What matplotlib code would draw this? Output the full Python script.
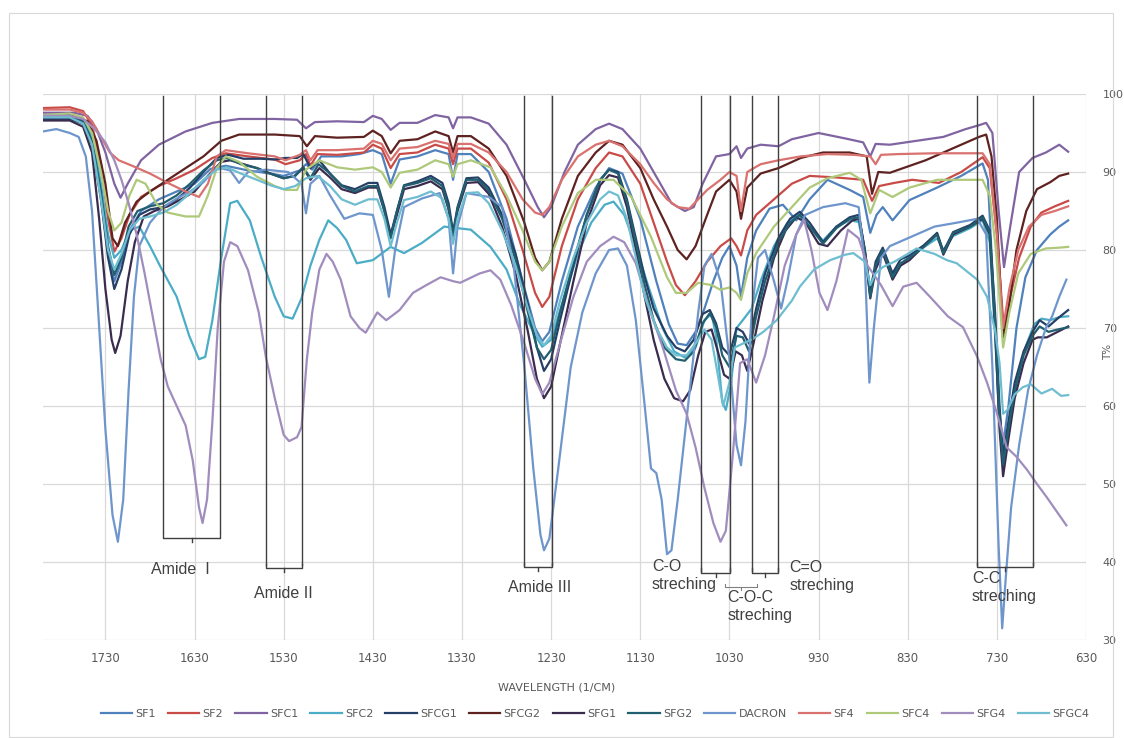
import matplotlib.pyplot as plt
from matplotlib.patches import Rectangle

# FTIR spectra, (wavenumber, T%)
sf1 = [(1800, 97.0), (1770, 97.0), (1755, 96.3), (1745, 94), (1735, 87), (1727, 79.5), (1720, 76), (1712, 78.5),
       (1703, 82.5), (1690, 85), (1670, 86.5), (1650, 87.5), (1630, 88.5), (1612, 90.4), (1595, 90.8), (1570, 90.2),
       (1545, 89.8), (1530, 89.5), (1512, 90.2), (1505, 91.0), (1498, 90.3), (1488, 92), (1465, 92), (1445, 92.3),
       (1430, 92.8), (1420, 92.3), (1410, 88.5), (1400, 91.6), (1380, 92), (1360, 92.8), (1345, 92.3), (1340, 89),
       (1335, 92.3), (1320, 92.3), (1300, 90), (1280, 84), (1262, 76), (1248, 70), (1240, 68.3), (1232, 69.5),
       (1218, 76), (1200, 83), (1180, 88), (1165, 90.5), (1150, 89.8), (1130, 84), (1112, 76), (1098, 70.5),
       (1088, 68), (1078, 67.8), (1068, 69.5), (1058, 72.5), (1048, 76), (1038, 79), (1030, 80.5), (1022, 78),
       (1017, 74), (1010, 79), (1000, 82.5), (985, 85.3), (970, 85.8), (955, 83.8), (940, 86.5), (920, 89),
       (895, 87.7), (880, 86.8), (872, 82.2), (865, 84.5), (858, 85.5), (847, 83.8), (828, 86.4), (797, 88),
       (770, 89.5), (746, 91.1), (740, 89), (734, 75), (728, 60), (723, 55), (717, 60), (708, 70), (698, 76.5),
       (685, 80), (670, 82), (660, 83), (650, 83.8)]

sf2 = [(1800, 98.2), (1770, 98.3), (1755, 97.8), (1745, 96), (1735, 91), (1727, 84), (1720, 79.8), (1712, 81.5),
       (1703, 84.5), (1690, 86.8), (1670, 88.2), (1650, 89.2), (1630, 90.3), (1610, 91.8), (1595, 92.4), (1570, 92.0),
       (1540, 91.6), (1528, 91.0), (1512, 91.5), (1505, 92.3), (1500, 90.8), (1492, 92.3), (1470, 92.2), (1440, 92.5),
       (1430, 93.5), (1420, 93), (1410, 90.5), (1400, 92.3), (1380, 92.5), (1360, 93.5), (1345, 93), (1340, 91),
       (1335, 93), (1320, 93), (1300, 91.2), (1280, 86.5), (1262, 80), (1248, 74.5), (1240, 72.7), (1232, 74),
       (1218, 80.5), (1200, 86.5), (1180, 90.5), (1165, 92.5), (1150, 92), (1130, 88.5), (1115, 83.5), (1100, 78.5),
       (1090, 75.5), (1080, 74.2), (1068, 76), (1055, 78.5), (1040, 80.5), (1028, 81.5), (1022, 80.5), (1017, 79.3),
       (1010, 82.5), (1000, 84.5), (980, 86.5), (960, 88.5), (940, 89.5), (910, 89.3), (880, 89), (870, 86.3),
       (862, 88.2), (845, 88.6), (825, 89), (795, 88.6), (770, 90), (746, 91.9), (738, 90.5), (730, 82), (722, 69.5),
       (715, 74), (705, 79), (692, 83), (680, 84.8), (665, 85.6), (650, 86.3)]

sfc1 = [(1800, 97.6), (1765, 97.6), (1750, 97.2), (1740, 95.5), (1730, 92.5), (1720, 88.5), (1713, 86.7), (1705, 88.5),
        (1690, 91.5), (1670, 93.5), (1640, 95.2), (1610, 96.3), (1580, 96.8), (1540, 96.8), (1515, 96.7), (1505, 95.6),
        (1495, 96.4), (1470, 96.5), (1440, 96.4), (1430, 97.2), (1420, 96.8), (1410, 95.4), (1400, 96.3), (1380, 96.3),
        (1360, 97.3), (1345, 97.0), (1340, 95.6), (1335, 97.0), (1320, 97.0), (1300, 96.2), (1280, 93.5), (1260, 89.0),
        (1245, 85.5), (1238, 84.2), (1230, 85.5), (1215, 90.0), (1200, 93.5), (1180, 95.5), (1165, 96.2), (1150, 95.5),
        (1130, 93.0), (1110, 89.0), (1095, 86.0), (1080, 85.0), (1070, 85.5), (1060, 88.5), (1045, 92.0), (1030, 92.3),
        (1022, 93.3), (1017, 91.8), (1010, 93.0), (995, 93.5), (975, 93.3), (960, 94.2), (930, 95.0), (900, 94.3),
        (880, 93.8), (872, 92.0), (866, 93.6), (850, 93.5), (820, 94.0), (790, 94.5), (765, 95.5), (750, 96.0),
        (742, 96.3), (735, 95.0), (728, 85.0), (722, 77.8), (715, 83.0), (705, 90.0), (690, 91.8), (675, 92.5),
        (660, 93.5), (650, 92.6)]

sfc2 = [(1800, 97.3), (1770, 97.3), (1755, 96.6), (1745, 94.5), (1735, 88.5), (1727, 82), (1720, 79), (1712, 80),
        (1703, 82.5), (1692, 83), (1680, 80.5), (1668, 77.8), (1650, 74), (1636, 69), (1625, 66), (1618, 66.3),
        (1610, 71), (1600, 79), (1590, 86), (1582, 86.3), (1568, 83.8), (1555, 79), (1540, 74), (1530, 71.5),
        (1520, 71.2), (1510, 73.8), (1500, 78), (1490, 81.3), (1480, 83.8), (1470, 82.8), (1460, 81.3), (1448, 78.3),
        (1430, 78.7), (1410, 80.4), (1395, 79.6), (1375, 80.9), (1350, 83), (1335, 82.8), (1320, 82.6), (1298, 80.4),
        (1280, 77.5), (1265, 73), (1250, 69.5), (1240, 67.6), (1230, 68.5), (1218, 73), (1200, 79.5), (1185, 83.5),
        (1170, 85.8), (1160, 86.2), (1148, 84.5), (1135, 80.4), (1120, 75), (1105, 70), (1092, 67), (1080, 66.2),
        (1068, 67.5), (1058, 71), (1050, 71.8), (1045, 69), (1038, 60.5), (1034, 59.5), (1028, 63), (1022, 70),
        (1015, 71), (1005, 72.5), (995, 76), (980, 80.5), (965, 83.5), (952, 84.5), (940, 83), (925, 81.2), (910, 83),
        (895, 83.8), (885, 83.6), (878, 79.5), (872, 75), (866, 77.8), (858, 79.5), (847, 77), (830, 79), (810, 80.5),
        (797, 81.5), (790, 80), (779, 81.8), (760, 82.8), (746, 83.8), (738, 81), (732, 69), (727, 58), (722, 54.5),
        (716, 58), (708, 63), (698, 67.5), (688, 70.5), (680, 71.2), (670, 71.0), (660, 71.4), (650, 71.5)]

sfcg1 = [(1800, 96.8), (1770, 96.8), (1755, 96.2), (1745, 93.5), (1735, 86.5), (1727, 79), (1720, 75), (1712, 77.5),
         (1703, 82), (1692, 84.5), (1680, 85.2), (1665, 85.5), (1650, 86.5), (1635, 88), (1620, 90), (1605, 91.8),
         (1592, 92.2), (1575, 91.7), (1555, 91.7), (1540, 91.6), (1528, 91.8), (1515, 91.8), (1508, 92.3), (1500, 90.5),
         (1490, 91.5), (1478, 89.8), (1465, 88.3), (1450, 87.8), (1435, 88.6), (1425, 88.6), (1417, 85.5), (1410, 82),
         (1403, 85), (1395, 88.3), (1380, 88.8), (1365, 89.5), (1352, 88.6), (1345, 86), (1340, 82.3), (1335, 85.5),
         (1325, 89.2), (1312, 89.3), (1300, 88), (1285, 84.5), (1270, 79.5), (1256, 73), (1246, 67.5), (1238, 64.5),
         (1230, 66), (1220, 71), (1205, 78), (1190, 84.5), (1175, 89), (1165, 90.3), (1155, 90), (1145, 86.5),
         (1135, 81.5), (1125, 76.5), (1115, 72.5), (1100, 69), (1090, 67.5), (1080, 67), (1070, 68.5), (1060, 71.8),
         (1052, 72.3), (1045, 70.6), (1038, 67.5), (1030, 66.5), (1022, 70), (1015, 69.5), (1008, 68), (1000, 72.5),
         (990, 77), (975, 81.5), (962, 84), (951, 84.9), (940, 83.5), (925, 81), (910, 83), (895, 84.2), (885, 84.5),
         (878, 80), (872, 74.5), (866, 78.5), (858, 80.3), (847, 77), (838, 78.8), (828, 79.3), (812, 80.6),
         (797, 82.2), (790, 79.8), (779, 82.3), (760, 83.2), (746, 84.4), (738, 82.5), (732, 72), (727, 60),
         (723, 53.5), (717, 58), (710, 63), (700, 67), (690, 69.5), (682, 71), (672, 70.2), (662, 71.2), (650, 72.3)]

sfcg2 = [(1800, 97.3), (1765, 97.2), (1750, 96.5), (1740, 94), (1730, 88.5), (1722, 81.5), (1716, 80.5), (1708, 83.5),
         (1695, 86.2), (1680, 87.5), (1660, 89), (1640, 90.5), (1620, 92), (1600, 94), (1580, 94.8), (1540, 94.8),
         (1512, 94.6), (1504, 93.3), (1495, 94.6), (1470, 94.4), (1440, 94.5), (1430, 95.3), (1420, 94.6), (1410, 92.4),
         (1400, 94.0), (1380, 94.2), (1360, 95.2), (1345, 94.6), (1340, 92.5), (1335, 94.6), (1320, 94.6), (1300, 93),
         (1280, 89.5), (1260, 83.5), (1248, 79), (1240, 77.4), (1232, 78.5), (1218, 84), (1200, 89.5), (1180, 92.5),
         (1165, 94), (1150, 93.5), (1130, 90.5), (1115, 86.5), (1100, 83), (1088, 80), (1078, 78.8), (1068, 80.5),
         (1055, 84.5), (1045, 87.5), (1030, 89), (1022, 87.5), (1017, 84), (1010, 88), (995, 89.8), (975, 90.5),
         (950, 91.8), (925, 92.5), (895, 92.5), (876, 92), (870, 87.2), (863, 90), (850, 89.9), (835, 90.5),
         (810, 91.5), (790, 92.5), (770, 93.5), (750, 94.5), (742, 94.8), (736, 92), (730, 84), (723, 68.8),
         (716, 73), (708, 80), (697, 85), (685, 87.8), (670, 88.7), (660, 89.5), (650, 89.8)]

sfg1 = [(1800, 96.6), (1770, 96.6), (1755, 95.8), (1745, 92.5), (1737, 84), (1730, 75), (1723, 68.5), (1719, 66.8),
        (1713, 69), (1705, 76), (1697, 81), (1687, 84.3), (1675, 85), (1660, 85.6), (1645, 86.5), (1630, 87.5),
        (1615, 89.5), (1600, 91.3), (1590, 91.5), (1575, 91), (1560, 90.5), (1545, 89.8), (1530, 89.2), (1518, 89.5),
        (1508, 90.5), (1500, 89), (1490, 90.5), (1478, 89.3), (1465, 87.8), (1450, 87.3), (1435, 88), (1425, 88),
        (1417, 85), (1410, 81.7), (1403, 84.5), (1395, 87.8), (1380, 88.2), (1365, 88.8), (1352, 87.8), (1345, 85.2),
        (1340, 81.8), (1335, 85), (1325, 88.6), (1312, 88.7), (1300, 87.2), (1285, 83), (1270, 77), (1256, 69.5),
        (1246, 63.5), (1238, 61), (1230, 62.5), (1220, 68), (1205, 76), (1190, 83.5), (1175, 88.3), (1165, 89.6),
        (1155, 89.3), (1145, 85.5), (1135, 80), (1125, 74), (1115, 68.5), (1103, 63.5), (1092, 61), (1082, 60.6),
        (1074, 62), (1065, 66.5), (1057, 69.5), (1050, 69.8), (1043, 67), (1036, 64), (1030, 63.5), (1023, 67),
        (1016, 66.5), (1010, 64.5), (1003, 68), (993, 73.5), (980, 79), (967, 82.5), (955, 84.2), (945, 83.6),
        (930, 80.8), (920, 80.5), (905, 82.5), (892, 83.8), (884, 84), (877, 79), (872, 73.8), (866, 77.5), (858, 79.6),
        (847, 76.2), (838, 78), (828, 78.7), (812, 80.5), (797, 82), (790, 79.4), (779, 82), (760, 83), (746, 84),
        (738, 82), (732, 70), (727, 57), (723, 51), (718, 55), (710, 61), (700, 65.5), (690, 68.5), (684, 68.8),
        (674, 68.8), (662, 69.5), (650, 70.2)]

sfg2 = [(1800, 97.2), (1770, 97.2), (1755, 96.5), (1745, 94), (1735, 87.5), (1727, 80.5), (1720, 76.8), (1712, 79),
        (1704, 83), (1694, 85), (1680, 85.6), (1665, 86), (1650, 87), (1635, 88.5), (1620, 90.2), (1605, 91.5),
        (1594, 91.8), (1578, 91), (1560, 90.5), (1545, 89.8), (1530, 89.2), (1517, 89.5), (1508, 90.6), (1500, 89.2),
        (1491, 91), (1480, 90), (1465, 88.2), (1450, 87.5), (1435, 88.2), (1425, 88.2), (1417, 85), (1410, 81.5),
        (1403, 85), (1395, 88.2), (1380, 88.6), (1365, 89.2), (1352, 88.2), (1345, 85.3), (1340, 82), (1335, 85.3),
        (1325, 89), (1312, 89), (1300, 87.6), (1285, 84), (1270, 78.8), (1256, 72), (1246, 67.5), (1238, 66),
        (1230, 67.2), (1220, 72), (1205, 78.5), (1190, 84.5), (1175, 89), (1165, 90.3), (1155, 89.8), (1145, 86.2),
        (1135, 81), (1125, 75.5), (1115, 71), (1103, 67.5), (1090, 66), (1080, 65.8), (1070, 67), (1060, 70.6),
        (1052, 71.9), (1045, 70.2), (1038, 66.5), (1030, 65), (1022, 69), (1015, 68.8), (1008, 67), (1000, 71.5),
        (990, 76), (975, 81), (962, 83.5), (951, 84.5), (940, 83), (925, 80.8), (910, 82.8), (895, 84), (885, 84.2),
        (878, 79.8), (872, 74), (866, 78), (858, 80), (847, 76.5), (838, 78.3), (828, 79), (812, 80.4), (797, 82),
        (790, 79.6), (779, 82.2), (760, 83), (746, 84.2), (738, 82.3), (732, 71), (727, 58.5), (723, 52.5), (717, 57),
        (710, 62), (700, 66.5), (690, 69), (682, 70.2), (672, 69.5), (662, 69.8), (650, 70.1)]

dacron = [(1800, 95.2), (1785, 95.5), (1770, 95.0), (1760, 94.5), (1752, 92), (1745, 85), (1738, 72), (1730, 57),
          (1722, 46), (1716, 42.6), (1710, 48), (1704, 62), (1698, 74), (1692, 80.5), (1680, 83.5), (1665, 85.5),
          (1650, 86.6), (1635, 87.5), (1620, 88.7), (1605, 90.6), (1590, 90.2), (1580, 88.6), (1570, 90.0),
          (1550, 90.3), (1525, 90.0), (1510, 88.5), (1505, 84.7), (1500, 88.5), (1490, 89.5), (1478, 87),
          (1462, 84), (1445, 84.7), (1430, 84.5), (1420, 80), (1412, 74), (1405, 80), (1395, 85.5), (1375, 86.6),
          (1355, 87.3), (1345, 84), (1340, 77), (1335, 83), (1325, 87.3), (1300, 86.8), (1285, 85.5), (1272, 78),
          (1260, 65), (1250, 52), (1242, 43.5), (1238, 41.5), (1232, 43), (1222, 52), (1208, 65), (1195, 72),
          (1180, 77), (1165, 80), (1155, 80.2), (1145, 78), (1135, 71), (1125, 60), (1118, 52), (1112, 51.4),
          (1106, 48), (1100, 41), (1095, 41.5), (1088, 48), (1075, 61.5), (1065, 72), (1058, 78), (1050, 79.5),
          (1040, 76), (1030, 66), (1022, 55), (1017, 52.4), (1012, 58), (1005, 72), (998, 79), (990, 80), (980, 76),
          (972, 72.5), (965, 76), (955, 82), (945, 84.5), (925, 85.5), (900, 86), (885, 85.5), (878, 78), (873, 63),
          (868, 70), (860, 79), (850, 80.5), (830, 81.5), (800, 83), (775, 83.5), (752, 84), (742, 82), (735, 65),
          (728, 42), (724, 31.5), (720, 38), (714, 47), (705, 55), (695, 62), (685, 66.5), (675, 70), (668, 71.5),
          (660, 74), (652, 76.2)]

sf4 = [(1800, 98.0), (1770, 98.0), (1755, 97.6), (1745, 96.5), (1735, 94.5), (1725, 92.5), (1715, 91.5), (1700, 90.8),
       (1680, 89.8), (1660, 88.6), (1640, 87.5), (1625, 86.8), (1615, 88.5), (1605, 92), (1595, 92.8), (1570, 92.4),
       (1540, 92.0), (1528, 91.5), (1512, 92.2), (1505, 92.8), (1500, 91.5), (1492, 92.8), (1470, 92.8), (1440, 93.0),
       (1430, 94.0), (1420, 93.6), (1410, 91.5), (1400, 93), (1380, 93.2), (1360, 94), (1345, 93.6), (1340, 91.8),
       (1335, 93.6), (1320, 93.6), (1300, 92.5), (1280, 90), (1262, 86.5), (1248, 84.8), (1240, 84.5), (1232, 85.5),
       (1218, 89), (1200, 92), (1180, 93.5), (1165, 94), (1150, 93.3), (1130, 91), (1115, 88.6), (1100, 86.5),
       (1088, 85.5), (1075, 85.3), (1065, 86.5), (1055, 87.7), (1040, 89), (1030, 90), (1022, 89.5), (1017, 85),
       (1010, 90), (995, 91), (975, 91.5), (950, 92), (920, 92.3), (890, 92.2), (872, 92), (866, 91), (860, 92.2),
       (840, 92.3), (800, 92.4), (770, 92.4), (746, 92.4), (738, 91), (730, 82), (723, 70), (716, 75), (706, 80),
       (694, 83), (680, 84.5), (665, 85), (650, 85.6)]

sfc4 = [(1800, 97.3), (1770, 97.5), (1755, 97), (1745, 95), (1735, 90), (1727, 85), (1720, 82.5), (1712, 83.5),
        (1703, 87), (1695, 89), (1685, 88.5), (1672, 85.8), (1660, 84.8), (1640, 84.3), (1625, 84.3), (1615, 87),
        (1605, 90.5), (1595, 92), (1580, 91.3), (1560, 89.4), (1540, 88.2), (1528, 87.7), (1515, 87.7), (1505, 90.3),
        (1490, 91.5), (1470, 90.6), (1450, 90.3), (1430, 90.6), (1420, 90), (1410, 88), (1400, 89.9), (1380, 90.3),
        (1360, 91.5), (1345, 91), (1340, 89.4), (1335, 91), (1320, 91.5), (1298, 90.6), (1280, 87), (1262, 82.5),
        (1248, 78.5), (1240, 77.4), (1232, 78.5), (1218, 83), (1200, 87.3), (1180, 89), (1160, 89), (1140, 86.8),
        (1118, 81.7), (1100, 76.5), (1090, 74.5), (1078, 74.5), (1065, 75.8), (1050, 75.5), (1040, 74.9),
        (1030, 75.2), (1022, 74.5), (1017, 73.6), (1010, 77), (1000, 79.6), (980, 83), (960, 85.5), (940, 88),
        (920, 89.2), (895, 89.9), (882, 89), (872, 84.7), (862, 87.7), (847, 86.8), (828, 88), (797, 89), (770, 89),
        (746, 89), (738, 87), (731, 80), (723, 67.5), (716, 72), (706, 77), (692, 79.5), (675, 80.2), (660, 80.3),
        (650, 80.4)]

sfg4 = [(1800, 97.2), (1770, 97.2), (1755, 96.8), (1742, 95.5), (1730, 93.8), (1720, 91.5), (1712, 89), (1704, 86),
        (1695, 82), (1686, 77), (1677, 71.5), (1668, 66), (1660, 62.5), (1650, 60), (1640, 57.5), (1632, 53),
        (1625, 47), (1621, 45), (1616, 48), (1610, 58), (1604, 70), (1597, 78.5), (1590, 81), (1582, 80.5),
        (1570, 77.4), (1558, 72), (1550, 66.3), (1540, 61), (1530, 56.3), (1524, 55.5), (1515, 56), (1510, 57.3),
        (1504, 66), (1498, 72), (1490, 77.5), (1482, 79.5), (1475, 78.5), (1466, 76.2), (1455, 71.5), (1445, 70),
        (1438, 69.4), (1425, 72), (1415, 71), (1400, 72.3), (1385, 74.5), (1370, 75.5), (1354, 76.5), (1340, 76),
        (1332, 75.8), (1310, 77), (1298, 77.4), (1287, 76.2), (1275, 73), (1260, 68), (1248, 63.5), (1240, 61.5),
        (1232, 63), (1220, 68), (1205, 74), (1190, 78.5), (1175, 80.5), (1160, 81.7), (1148, 81), (1135, 78.3),
        (1120, 72.5), (1105, 67.6), (1090, 62), (1078, 59), (1068, 54.7), (1058, 49.5), (1048, 45), (1040, 42.6),
        (1034, 44), (1026, 54), (1018, 65.5), (1010, 66), (1000, 63), (990, 66.5), (980, 71.5), (968, 78), (955, 82),
        (946, 83.8), (938, 80), (929, 74.5), (920, 72.3), (910, 76), (897, 82.6), (885, 81.5), (875, 78), (860, 75.5),
        (847, 72.8), (835, 75.3), (820, 75.8), (805, 74), (785, 71.5), (768, 70.1), (752, 66.3), (741, 63),
        (730, 59.1), (719, 54.7), (708, 53.5), (696, 51.8), (685, 50), (674, 48.3), (663, 46.5), (652, 44.7)]

sfgc4 = [(1800, 97.0), (1770, 97.0), (1755, 96.2), (1745, 93.5), (1735, 86.5), (1727, 80), (1720, 77.5), (1712, 79.5),
         (1703, 82.5), (1692, 84), (1680, 84.3), (1665, 84.8), (1650, 85.8), (1635, 87.3), (1620, 89), (1605, 90.3),
         (1594, 90.6), (1578, 89.8), (1560, 89), (1545, 88.3), (1530, 87.8), (1517, 88.2), (1505, 89.2), (1492, 89.5),
         (1478, 88.2), (1465, 86.5), (1450, 85.8), (1435, 86.5), (1425, 86.5), (1417, 84), (1410, 80.5), (1403, 83.5),
         (1395, 86.4), (1380, 86.8), (1365, 87.5), (1352, 86.6), (1345, 84), (1340, 80.8), (1335, 84), (1325, 87.3),
         (1312, 87.4), (1300, 86), (1285, 82.5), (1270, 78), (1256, 72.5), (1246, 69), (1238, 67.8), (1230, 69),
         (1220, 73.5), (1205, 79), (1190, 83.5), (1175, 86.5), (1165, 87.5), (1155, 87), (1145, 84), (1135, 79),
         (1125, 74), (1112, 70), (1100, 67.5), (1090, 66.5), (1078, 66.5), (1068, 68), (1058, 69.8), (1050, 68.5),
         (1043, 64), (1037, 60), (1030, 63), (1024, 67.5), (1015, 68), (1005, 68.5), (992, 69.5), (977, 71),
         (960, 73.5), (951, 75.3), (935, 77.5), (917, 78.7), (900, 79.4), (891, 79.6), (878, 78.5), (872, 75.5),
         (866, 77), (858, 77.8), (845, 78.5), (830, 79.5), (820, 80.2), (800, 79.5), (786, 78.7), (775, 78.3),
         (752, 76.2), (741, 74), (732, 69.7), (727, 65.5), (723, 59), (718, 59.5), (710, 61.5), (701, 62.4),
         (692, 62.8), (680, 61.6), (668, 62.2), (658, 61.3), (650, 61.4)]

names = ['SF1', 'SF2', 'SFC1', 'SFC2', 'SFCG1', 'SFCG2', 'SFG1', 'SFG2', 'DACRON', 'SF4', 'SFC4', 'SFG4', 'SFGC4']
series = [sf1, sf2, sfc1, sfc2, sfcg1, sfcg2, sfg1, sfg2, dacron, sf4, sfc4, sfg4, sfgc4]
colors = ['#4F81BD', '#C94B48', '#8064A2', '#4BACC6', '#253F66', '#5E2220', '#3A2C4F', '#215F70',
          '#6E96CC', '#D9716E', '#AFC97A', '#A18CBE', '#6FBDD1']

xticks = [1730, 1630, 1530, 1430, 1330, 1230, 1130, 1030, 930, 830, 730, 630]

# band regions: (left, right, bottom of lines, bracket level)
bands = [(1665, 1601, 43.8, 43.1), (1550, 1509, 39.6, 39.2), (1260, 1229, 39.6, 39.3),
         (1062, 1029, 38.9, 38.6), (1005, 975, 38.9, 38.6), (752, 690, 39.6, 39.3)]
labels = [('Amide  I', 1646, 39.0, 'center'), ('Amide II', 1530, 36.0, 'center'),
          ('Amide III', 1243, 36.7, 'center'), ('C-O\nstreching', 1117, 40.4, 'left'),
          ('C-O-C\nstreching', 1032, 36.4, 'left'), ('C=O\nstreching', 963, 40.2, 'left'),
          ('C-C\nstreching', 758, 38.9, 'left')]

fig = plt.figure(figsize=(11.24, 7.38), dpi=100)
ax = fig.add_axes([43 / 1124, 1 - 640 / 738, (1086 - 43) / 1124, (640 - 94) / 738])

for name, s, c in zip(names, series, colors):
    w = [p[0] for p in s]
    t = [p[1] for p in s]
    ax.plot(w, t, color=c, lw=1.6, label=name)

ax.set_xlim(1800, 630)
ax.set_ylim(30, 100)
ax.set_xticks(xticks)
ax.set_yticks(range(30, 101, 10))
ax.yaxis.tick_right()
ax.tick_params(axis='x', length=0, pad=9, labelsize=8.5, labelcolor='#595959')
ax.tick_params(axis='y', length=0, pad=12, labelsize=8, labelcolor='#595959')
for lab in ax.get_yticklabels():
    lab.set_horizontalalignment('left')
ax.grid(True, color='#D9D9D9', lw=0.9)
ax.set_axisbelow(True)
for sp in ax.spines.values():
    sp.set_visible(False)

line_c = '#404040'
for left, right, bot, lev in bands:
    ax.plot([left, left], [99.7, bot], color=line_c, lw=1.0)
    ax.plot([right, right], [99.7, bot], color=line_c, lw=1.0)
    ax.plot([left, left, right, right], [lev + 0.6, lev, lev, lev + 0.6], color=line_c, lw=1.0)
    mid = (left + right) / 2
    ax.plot([mid, mid], [lev, lev - 0.5], color=line_c, lw=1.0)
# small bracket for C-O-C
ax.plot([1035, 1035, 999, 999], [37.2, 36.8, 36.8, 37.2], color='#808080', lw=0.8)
ax.plot([1017, 1017], [36.8, 36.4], color='#808080', lw=0.8)

for txt, x, y, ha in labels:
    ax.text(x, y, txt, ha=ha, va='top' if ha == 'left' else 'center', fontsize=11.5,
            family='Liberation Sans', color='#404040', linespacing=1.25)

fig.text(557 / 1124, 1 - 687 / 738, 'WAVELENGTH (1/CM)', ha='center', va='center', fontsize=8, color='#595959')
fig.text(1108 / 1124, 1 - 352 / 738, 'T%', ha='center', va='center', rotation=90, fontsize=7.5, color='#595959')

fig.legend(loc='center', bbox_to_anchor=(595 / 1124, 1 - 714 / 738), ncol=13, frameon=False, fontsize=8,
           handlelength=2.8, handletextpad=0.3, columnspacing=1.1, labelcolor='#595959')

fig.patches.append(Rectangle((9 / 1124, 0.001), 1104 / 1124, 1 - 14 / 738, transform=fig.transFigure,
                             fill=False, edgecolor='#D9D9D9', lw=0.8))

fig.savefig('out.png', dpi=100, facecolor='white')
